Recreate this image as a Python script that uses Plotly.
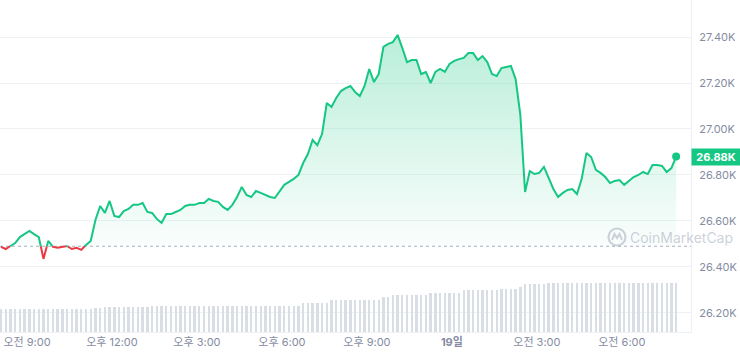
import plotly.graph_objects as go
import pandas as pd

# ---------------- data ----------------
start_time = "2023-09-18 08:05"
interval = "10min"

price = [
    26487, 26478, 26491, 26504, 26530, 26543, 26557, 26543, 26530, 26435,
    26513, 26487, 26483, 26487, 26491, 26478, 26483, 26474, 26496, 26513,
    26604, 26665, 26635, 26687, 26622, 26617, 26643, 26652, 26670, 26670,
    26678, 26639, 26635, 26609, 26591, 26630, 26630, 26639, 26648, 26665,
    26670, 26670, 26678, 26678, 26696, 26687, 26683, 26661, 26648, 26670,
    26704, 26748, 26713, 26704, 26730, 26722, 26713, 26704, 26700, 26726,
    26757, 26770, 26783, 26800, 26852, 26891, 26952, 26930, 26978, 27113,
    27096, 27135, 27165, 27178, 27187, 27161, 27143, 27187, 27261, 27204,
    27239, 27357, 27370, 27378, 27409, 27352, 27291, 27300, 27300, 27239,
    27248, 27200, 27248, 27261, 27248, 27283, 27296, 27304, 27309, 27330,
    27330, 27300, 27317, 27291, 27239, 27230, 27265, 27270, 27274, 27217,
    27061, 26726, 26817, 26804, 26809, 26835, 26787, 26739, 26704, 26722,
    26735, 26739, 26717, 26783, 26896, 26878, 26822, 26809, 26791, 26765,
    26774, 26778, 26757, 26774, 26791, 26800, 26813, 26804, 26843, 26843,
    26839, 26813, 26830, 26880,
]

volume = [  # 24h volume, billions USD
    9.6, 9.6, 9.6, 9.6, 9.6, 9.6, 9.6, 9.6, 9.6, 9.6,
    9.6, 9.6, 9.6, 9.6, 9.6, 9.6, 9.6, 9.6, 9.6, 9.7,
    10.0, 10.0, 10.5, 10.5, 10.5, 10.5, 10.5, 10.5, 10.5, 10.5,
    10.5, 10.5, 10.8, 10.8, 10.8, 10.8, 10.8, 10.8, 10.8, 10.8,
    10.8, 10.8, 10.8, 11.1, 11.1, 11.1, 11.1, 11.1, 11.1, 11.1,
    11.1, 11.1, 11.1, 11.1, 11.1, 11.1, 11.1, 11.1, 11.1, 11.1,
    11.1, 11.1, 11.1, 11.1, 12.1, 12.1, 12.1, 12.1, 12.1, 12.1,
    13.5, 13.5, 13.5, 13.5, 13.5, 13.5, 13.5, 13.5, 13.5, 13.5,
    13.5, 14.9, 14.9, 15.6, 15.6, 15.6, 15.6, 15.6, 15.6, 15.6,
    15.6, 16.6, 16.6, 16.6, 16.6, 16.6, 16.6, 16.6, 17.7, 17.7,
    17.7, 17.7, 17.7, 17.7, 17.7, 17.7, 18.1, 18.1, 18.1, 18.1,
    19.0, 20.4, 20.4, 20.4, 20.4, 20.4, 20.5, 20.5, 20.5, 20.5,
    20.5, 20.5, 20.5, 20.5, 20.6, 20.6, 20.6, 20.6, 20.6, 20.6,
    20.6, 20.6, 20.6, 20.6, 20.7, 20.7, 20.7, 20.7, 20.7, 20.7,
    20.7, 20.7, 20.7, 20.7,
]

baseline = 26490

price_ticks = [26200, 26400, 26600, 26800, 27000, 27200, 27400]
price_tick_text = ["26.20K", "26.40K", "26.60K", "26.80K", "27.00K", "27.20K", "27.40K"]

time_ticks = ["2023-09-18 09:00", "2023-09-18 12:00", "2023-09-18 15:00", "2023-09-18 18:00",
              "2023-09-18 21:00", "2023-09-19 00:00", "2023-09-19 03:00", "2023-09-19 06:00"]
time_tick_text = ["오전 9:00", "오후 12:00", "오후 3:00", "오후 6:00",
                  "오후 9:00", "<b>19일</b>", "오전 3:00", "오전 6:00"]

last_label = "26.88K"

# ---------------- styling ----------------
GREEN = "#16c784"
RED = "#ea3943"
GRID = "#eff2f5"
TICK = "#858ca2"
FONT = "Inter, 'Noto Sans CJK KR', sans-serif"

times = pd.date_range(start_time, periods=len(price), freq=interval)

# insert baseline crossing points so the colours switch exactly at the baseline
X, Y = [], []
for k in range(len(price)):
    X.append(times[k])
    Y.append(price[k])
    if k < len(price) - 1:
        p0, p1 = price[k], price[k + 1]
        if (p0 - baseline) * (p1 - baseline) < 0:
            frac = (baseline - p0) / (p1 - p0)
            X.append(times[k] + (times[k + 1] - times[k]) * frac)
            Y.append(baseline)

green_line = [y if y >= baseline else None for y in Y]
red_line = [y if y <= baseline else None for y in Y]
green_fill = [max(y, baseline) for y in Y]
red_fill = [min(y, baseline) for y in Y]
base_arr = [baseline] * len(Y)

fig = go.Figure()

# volume bars
fig.add_trace(go.Bar(
    x=times, y=volume, yaxis="y2",
    marker=dict(color="#d9dee5", line=dict(width=0)),
    width=0.5 * 600000, hoverinfo="skip",
))

# fills
fig.add_trace(go.Scatter(x=X, y=base_arr, mode="lines", line=dict(width=0), hoverinfo="skip"))
fig.add_trace(go.Scatter(
    x=X, y=green_fill, mode="lines", line=dict(width=0), fill="tonexty",
    fillgradient=dict(type="vertical",
                      colorscale=[[0, "rgba(22,199,132,0.02)"], [1, "rgba(22,199,132,0.30)"]]),
    hoverinfo="skip",
))
fig.add_trace(go.Scatter(x=X, y=base_arr, mode="lines", line=dict(width=0), hoverinfo="skip"))
fig.add_trace(go.Scatter(
    x=X, y=red_fill, mode="lines", line=dict(width=0), fill="tonexty",
    fillgradient=dict(type="vertical",
                      colorscale=[[0, "rgba(234,57,67,0.10)"], [1, "rgba(234,57,67,0.0)"]]),
    hoverinfo="skip",
))

# lines
fig.add_trace(go.Scatter(x=X, y=red_line, mode="lines", line=dict(color=RED, width=2),
                         connectgaps=False, hoverinfo="skip"))
fig.add_trace(go.Scatter(x=X, y=green_line, mode="lines", line=dict(color=GREEN, width=2),
                         connectgaps=False, hoverinfo="skip"))
fig.add_trace(go.Scatter(x=[times[-1]], y=[price[-1]], mode="markers",
                         marker=dict(color=GREEN, size=8), hoverinfo="skip"))

# baseline dotted line
fig.add_shape(type="line", xref="paper", x0=0, x1=1, yref="y", y0=baseline, y1=baseline,
              line=dict(color="#a6b0c3", width=1, dash="dot"), layer="below")

# price tag
fig.add_annotation(xref="paper", x=1, xanchor="left", yref="y", y=price[-1], yanchor="middle",
                   text="<b>" + last_label + "</b>", showarrow=False,
                   font=dict(family=FONT, size=11, color="white"),
                   bgcolor=GREEN, width=44, height=12, borderpad=2)

# watermark
fig.add_shape(type="circle", xref="paper", yref="paper",
              xsizemode="pixel", ysizemode="pixel",
              xanchor=617 / 691, yanchor=1 - 237 / 332,
              x0=-8.5, x1=8.5, y0=-8.5, y1=8.5,
              line=dict(color="rgba(165,175,190,0.55)", width=2.2))
fig.add_shape(type="path", xref="paper", yref="paper",
              xsizemode="pixel", ysizemode="pixel",
              xanchor=617 / 691, yanchor=1 - 237 / 332,
              path="M -5,-3 L -2.5,3 L 0,-1 L 2.5,3 L 5,-3",
              line=dict(color="rgba(165,175,190,0.55)", width=2))
fig.add_annotation(xref="paper", x=628 / 691, xanchor="left", yref="paper",
                   y=1 - 237 / 332, yanchor="middle", text="CoinMarketCap", showarrow=False,
                   font=dict(family="Inter, sans-serif", size=14, color="rgba(160,170,186,0.55)"))

fig.update_layout(
    width=740, height=354,
    margin=dict(l=0, r=49, t=0, b=22),
    paper_bgcolor="white", plot_bgcolor="white",
    showlegend=False, bargap=0,
    font=dict(family=FONT, size=11, color=TICK),
    xaxis=dict(
        type="date",
        range=["2023-09-18 08:02:50", "2023-09-19 08:26:30"],
        tickvals=time_ticks, ticktext=time_tick_text,
        showgrid=False, zeroline=False,
        showline=True, linecolor=GRID, linewidth=1,
        ticks="", tickfont=dict(family=FONT, size=11, color=TICK),
    ),
    yaxis=dict(
        range=[26117, 27561], side="right",
        tickvals=price_ticks, ticktext=price_tick_text,
        showgrid=True, gridcolor=GRID, gridwidth=1, zeroline=False,
        showline=True, linecolor=GRID, linewidth=1,
        ticks="", ticklabelstandoff=5,
        tickfont=dict(family=FONT, size=11, color=TICK),
    ),
    yaxis2=dict(overlaying="y", range=[0, 140], visible=False),
)

fig.write_html("out.html", config={"displayModeBar": False})
